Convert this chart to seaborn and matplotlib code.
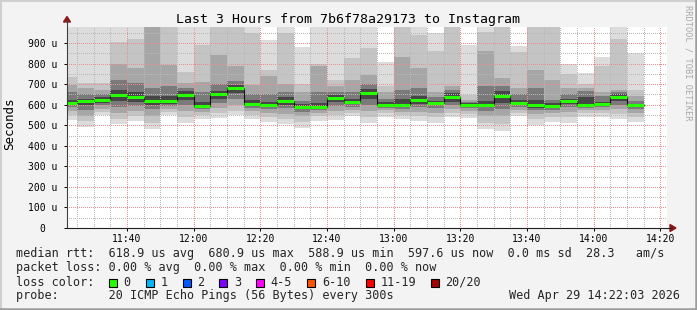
import matplotlib
matplotlib.use("Agg")
import matplotlib.pyplot as plt
import seaborn as sns
import pandas as pd
from matplotlib.lines import Line2D
from matplotlib.patches import Rectangle, Polygon

# ---------------- data (microseconds) ----------------
times = ["11:20", "11:25", "11:30", "11:35", "11:40", "11:45", "11:50", "11:55",
         "12:00", "12:05", "12:10", "12:15", "12:20", "12:25", "12:30", "12:35",
         "12:40", "12:45", "12:50", "12:55", "13:00", "13:05", "13:10", "13:15",
         "13:20", "13:25", "13:30", "13:35", "13:40", "13:45", "13:50", "13:55",
         "14:00", "14:05", "14:10"]
median_us = [608, 618, 624, 647, 639, 618, 618, 647, 595, 652, 681, 605, 598, 618, 589, 589,
             634, 614, 658, 598, 598, 624, 610, 636, 598, 598, 644, 610, 599, 595, 619, 599,
             605, 636, 597.6]
# smoke layers: outermost (1) to innermost (5)
lo1 = [525, 493, 550, 506, 522, 481, 550, 512, 529, 533, 550, 529, 517, 506, 485, 522, 525, 545,
       512, 538, 529, 522, 512, 538, 533, 480, 473, 545, 501, 517, 512, 541, 538, 529, 517]
hi1 = [1000, 1000, 1000, 1000, 1000, 1000, 1000, 1000, 1000, 1000, 1000, 1000, 914, 1000, 882,
       1000, 1000, 1000, 1000, 809, 1000, 1000, 947, 1000, 890, 1000, 1000, 887, 1000, 1000, 796,
       752, 833, 1000, 853]
lo2 = [550, 520, 565, 530, 545, 510, 565, 540, 550, 560, 570, 550, 540, 530, 515, 545, 550, 560,
       540, 560, 550, 545, 540, 560, 555, 510, 505, 560, 530, 540, 540, 560, 560, 555, 540]
hi2 = [735, 705, 705, 906, 922, 1000, 1000, 760, 890, 1000, 1000, 950, 767, 950, 700, 800, 720,
       825, 874, 690, 1000, 940, 861, 1000, 645, 955, 1000, 855, 1000, 1000, 750, 700, 790, 922, 670]
lo3 = [570, 545, 580, 560, 570, 545, 580, 570, 565, 585, 600, 570, 560, 555, 545, 560, 570, 575,
       570, 575, 565, 565, 560, 580, 570, 545, 545, 575, 555, 560, 565, 575, 575, 580, 560]
hi3 = [695, 680, 670, 800, 777, 1000, 793, 705, 712, 841, 790, 695, 740, 700, 660, 790, 690, 720,
       745, 660, 833, 777, 660, 690, 625, 860, 730, 680, 770, 720, 680, 680, 660, 670, 640]
lo4 = [590, 575, 600, 590, 595, 580, 595, 600, 580, 610, 630, 585, 580, 585, 565, 575, 595, 590,
       600, 585, 580, 590, 585, 600, 585, 570, 580, 590, 575, 575, 590, 585, 590, 600, 580]
hi4 = [660, 650, 650, 720, 705, 680, 690, 680, 660, 700, 715, 650, 650, 660, 620, 660, 660, 660,
       700, 630, 670, 680, 635, 670, 615, 690, 690, 650, 680, 625, 650, 665, 640, 660, 620]
lo5 = [600, 600, 610, 620, 615, 600, 605, 625, 585, 630, 655, 595, 590, 600, 578, 582, 615, 602,
       630, 592, 590, 605, 598, 615, 592, 588, 610, 600, 585, 585, 605, 592, 598, 620, 590]
hi5 = [625, 630, 635, 670, 660, 640, 640, 665, 615, 665, 695, 625, 615, 635, 605, 610, 645, 630,
       675, 612, 630, 640, 620, 655, 608, 620, 665, 625, 625, 610, 630, 635, 615, 650, 605]

y_labels = ["0  ", "100 u", "200 u", "300 u", "400 u", "500 u", "600 u", "700 u", "800 u", "900 u"]
x_labels = ["11:40", "12:00", "12:20", "12:40", "13:00", "13:20", "13:40", "14:00", "14:20"]

loss_labels = ["0", "1", "2", "3", "4-5", "6-10", "11-19", "20/20"]
loss_colors = ["#26ff00", "#00b8ff", "#0059ff", "#7e00ff", "#ff00ff", "#ff5500", "#ff0000", "#a00000"]

title = "Last 3 Hours from 7b6f78a29173 to Instagram"
row1 = "median rtt:  618.9 us avg  680.9 us max  588.9 us min  597.6 us now  0.0 ms sd  28.3   am/s"
row2 = "packet loss: 0.00 % avg  0.00 % max  0.00 % min  0.00 % now"
row4 = "probe:       20 ICMP Echo Pings (56 Bytes) every 300s"
stamp = "Wed Apr 29 14:22:03 2026"


def to_min(s):
    h, m = s.split(":")
    return int(h) * 60 + int(m)


starts = [to_min(t) for t in times]
STEP = 5
x_left = to_min("11:22") + 3 / 60
x_right = to_min("14:22") + 3 / 60

# ---------------- figure ----------------
sns.set_style("white")
plt.rcParams["font.family"] = ["DejaVu Sans Mono"]
W, H = 697, 310
fig = plt.figure(figsize=(W / 100, H / 100), dpi=100, facecolor="#f3f3f3")
ax = fig.add_axes([67 / W, (H - 228) / H, 600 / W, 201 / H])
ax.set_facecolor("white")
ax.set_xlim(x_left, x_right)
ax.set_ylim(0, 978)

layers = [(lo1, hi1, "#dcdcdc"), (lo2, hi2, "#c4c4c4"), (lo3, hi3, "#a6a6a6"),
          (lo4, hi4, "#7a7a7a"), (lo5, hi5, "#464646")]
for lo, hi, col in layers:
    ax.bar(starts, [h - l for l, h in zip(lo, hi)], bottom=lo, width=STEP, align="edge",
           color=col, linewidth=0, zorder=1)

# grid (1px on / 1px off dots)
minor_col = "#b8b8b8"
major_col = "#e89090"
dot = (0, (1.4, 2.8))
for v in range(50, 978, 50):
    ax.axhline(v, color=major_col if v % 100 == 0 else minor_col, lw=0.5, ls=dot, zorder=2,
               antialiased=False)
for m in range(to_min("11:25"), int(x_right) + 1, 5):
    ax.axvline(m, color=major_col if m % 20 == 0 else minor_col, lw=0.5, ls=dot, zorder=2,
               antialiased=False)

# median
df = pd.DataFrame({"t": starts + [starts[-1] + STEP], "m": median_us + [median_us[-1]]})
sns.lineplot(data=df, x="t", y="m", drawstyle="steps-post", color="#111111", lw=0.8, ax=ax,
             zorder=3)
ax.hlines(median_us, [s for s in starts], [s + STEP for s in starts], color="#26ff00",
          lw=2.2, zorder=4)

# axes / ticks
ax.set_xlabel("")
ax.set_ylabel("")
ax.set_yticks(range(0, 901, 100))
ax.set_yticklabels(y_labels)
ax.set_xticks([to_min(t) for t in x_labels])
ax.set_xticklabels(x_labels)
ax.tick_params(axis="y", length=2.5, width=0.7, pad=4.2, labelsize=7, colors="#000000",
               direction="out", left=True)
ax.tick_params(axis="x", length=2.5, width=0.7, pad=2.0, labelsize=7, colors="#000000",
               direction="out", bottom=True)
for sp in ax.spines.values():
    sp.set_visible(False)


def fx(px):
    return px / W


def fy(py):
    return 1 - py / H


# axis lines with arrows
fig.add_artist(Line2D([fx(67), fx(67)], [fy(228), fy(20)], color="#404040", lw=0.8))
fig.add_artist(Line2D([fx(67), fx(672)], [fy(228), fy(228)], color="#202020", lw=0.8))
fig.add_artist(Polygon([[fx(63.5), fy(22)], [fx(70.5), fy(22)], [fx(67), fy(16.5)]],
                       closed=True, color="#8b1a1a", transform=fig.transFigure))
fig.add_artist(Polygon([[fx(670), fy(224.5)], [fx(670), fy(231.5)], [fx(676), fy(228)]],
                       closed=True, color="#8b1a1a", transform=fig.transFigure))

# texts
fig.text(0.5, fy(19), title, ha="center", va="center", fontsize=9.5, color="#000000")
fig.text(fx(10), fy(124), "Seconds", rotation=90, ha="center", va="center", fontsize=9,
         color="#000000")
fig.text(fx(688), fy(5), "RRDTOOL / TOBI OETIKER", rotation=270, ha="center", va="top",
         fontsize=6.2, color="#a8a8a8")

fs = 8.5
fig.text(fx(16), fy(254), row1, ha="left", va="center", fontsize=fs)
fig.text(fx(16), fy(268), row2, ha="left", va="center", fontsize=fs)
fig.text(fx(16), fy(282), "loss color:", ha="left", va="center", fontsize=fs)
box_x = [108.7, 145.7, 182.7, 219.3, 256, 307.3, 365.7, 430.7]
for bx, lab, col in zip(box_x, loss_labels, loss_colors):
    fig.add_artist(Rectangle((fx(bx), fy(286.7)), 8 / W, 8 / H, facecolor=col,
                             edgecolor="#000000", lw=0.8, transform=fig.transFigure))
    fig.text(fx(bx + 14.6), fy(282), lab, ha="left", va="center", fontsize=fs)
fig.text(fx(16), fy(296), row4, ha="left", va="center", fontsize=fs)
fig.text(fx(680), fy(296), stamp, ha="right", va="center", fontsize=fs)

# frame border
fig.add_artist(Line2D([0, 1], [fy(0.5), fy(0.5)], color="#d0d0d0", lw=1.5))
fig.add_artist(Line2D([fx(0.5), fx(0.5)], [0, 1], color="#d0d0d0", lw=1.5))
fig.add_artist(Line2D([0, 1], [fy(309), fy(309)], color="#9c9c9c", lw=1.8))
fig.add_artist(Line2D([fx(696), fx(696)], [0, 1], color="#9c9c9c", lw=1.8))

fig.savefig("out.png", dpi=100, facecolor=fig.get_facecolor())
